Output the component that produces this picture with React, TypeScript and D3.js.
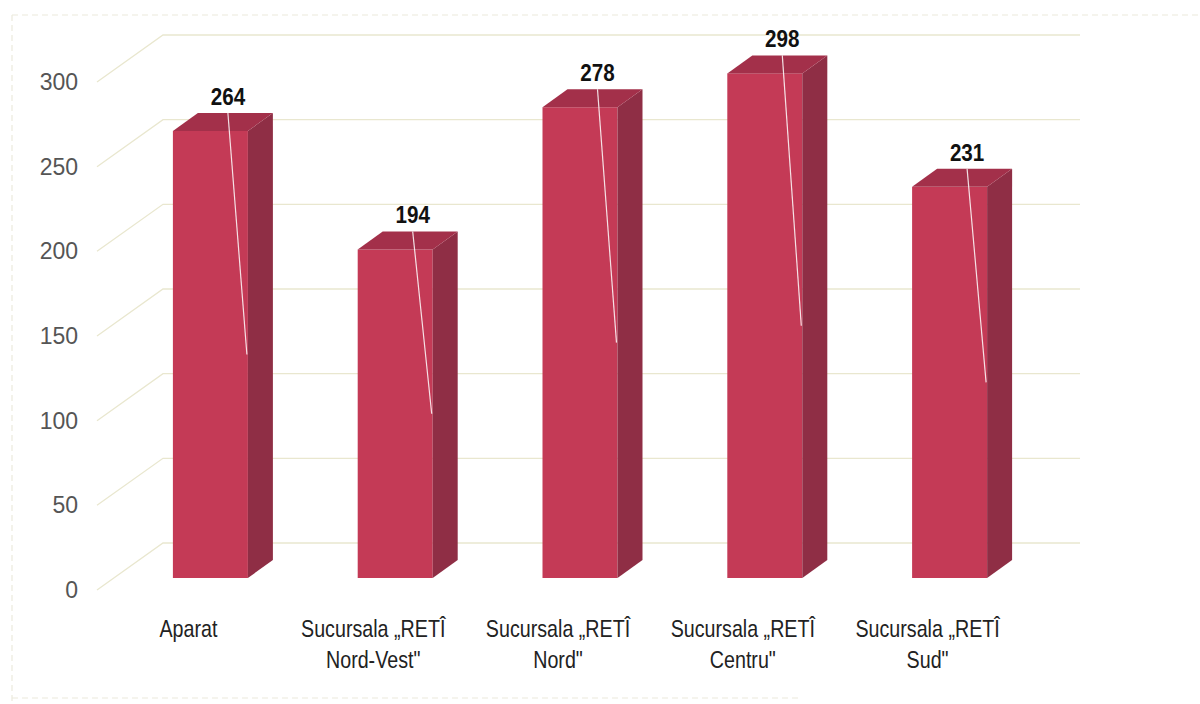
import React from "react";
import * as d3 from "d3";

const categories: string[][] = [
  ["Aparat"],
  ["Sucursala „RETÎ", "Nord-Vest\""],
  ["Sucursala „RETÎ", "Nord\""],
  ["Sucursala „RETÎ", "Centru\""],
  ["Sucursala „RETÎ", "Sud\""],
];
const values: number[] = [264, 194, 278, 298, 231];
const yTicks: number[] = [0, 50, 100, 150, 200, 250, 300];

const W = 1200;
const H = 704;
const depthX = 63;
const depthY = 47;
const barOffY = 12;
const barW = 75;
const barDX = 25;
const barDY = 18;

export default function App() {
  const keys = categories.map((_, i) => String(i));
  const y = d3.scaleLinear().domain([0, 300]).range([590, 82]);
  const x = d3.scaleBand<string>().domain(keys).range([118, 1042]);
  const step = x.step();
  const axisX = 100;
  const wallRight = 1080;

  const frontColor = "#c43a56";
  const topColor = "#a3304a";
  const sideColor = "#8f2e45";

  return (
    <svg width={W} height={H} style={{ display: "block", position: "absolute", left: 0, top: 0, background: "#fff" }}>
      <rect x={0} y={0} width={W} height={H} fill="#ffffff" />
      {/* frame */}
      <g stroke="#ebe9dc" strokeWidth={1.2} strokeDasharray="6 4" fill="none">
        <line x1={12} y1={15} x2={W} y2={15} />
        <line x1={12} y1={15} x2={12} y2={H} />
        <line x1={12} y1={698} x2={800} y2={698} />
      </g>
      {/* gridlines */}
      <g stroke="#e9e7cf" strokeWidth={1.3} fill="none">
        {yTicks.map((t) => (
          <polyline
            key={t}
            points={`${axisX - 3},${y(t)} ${axisX + depthX},${y(t) - depthY} ${wallRight},${y(t) - depthY}`}
          />
        ))}
      </g>
      {/* y tick labels */}
      <g fontFamily="'Liberation Sans', Arial, sans-serif" fontSize={23} fill="#555" textAnchor="end">
        {yTicks.map((t) => (
          <text key={t} x={78} y={y(t) + 8}>
            {t}
          </text>
        ))}
      </g>
      {/* bars */}
      {values.map((v, i) => {
        const fl = (x(keys[i]) as number) + (step - barW) / 2;
        const yb = y(0) - barOffY;
        const yt = y(v) - barOffY;
        const fr = fl + barW;
        const yHalf = y(v / 2) - barOffY;
        const lx = fl + barW / 2 - 22;
        return (
          <g key={i}>
            <rect x={fl} y={yt} width={barW} height={yb - yt} fill={frontColor} />
            <polygon
              points={`${fr},${yt} ${fr + barDX},${yt - barDY} ${fr + barDX},${yb - barDY} ${fr},${yb}`}
              fill={sideColor}
            />
            <polygon
              points={`${fl},${yt} ${fl + barDX},${yt - barDY} ${fr + barDX},${yt - barDY} ${fr},${yt}`}
              fill={topColor}
            />
            <line
              x1={fl + 55}
              y1={yt - barDY}
              x2={fr - 1}
              y2={yHalf}
              stroke="#ffffff"
              strokeWidth={1.2}
              opacity={0.85}
            />
            <g transform={`translate(${fl + 55},${yt - barDY - 8}) scale(0.86,1)`}>
              <text
                textAnchor="middle"
                fontFamily="'Liberation Sans', Arial, sans-serif"
                fontWeight="bold"
                fontSize={24}
                fill="#111"
              >
                {v}
              </text>
            </g>
            {categories[i].map((line, j) => (
              <g key={j} transform={`translate(${lx},${637 + j * 31}) scale(0.82,1)`}>
                <text
                  textAnchor="middle"
                  fontFamily="'Liberation Sans', Arial, sans-serif"
                  fontSize={24}
                  fill="#222"
                >
                  {line}
                </text>
              </g>
            ))}
          </g>
        );
      })}
    </svg>
  );
}
